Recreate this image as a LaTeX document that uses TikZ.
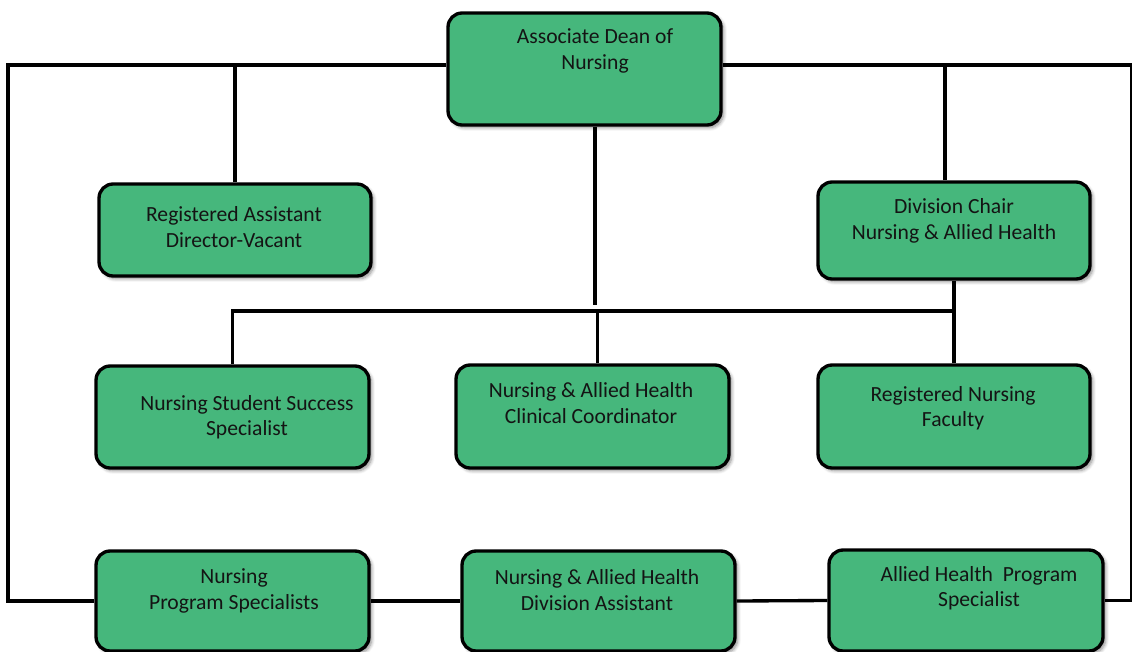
\documentclass[tikz,border=0pt]{standalone}
\usepackage{fontspec}
\setmainfont{Carlito}
\usepackage{xcolor}
\usetikzlibrary{shadows.blur}
\definecolor{boxgreen}{RGB}{70,183,124}
\definecolor{txtgray}{RGB}{20,20,20}

\begin{document}
\begin{tikzpicture}[x=0.02cm,y=-0.02cm,line width=1.9pt,
  box/.style={rectangle,rounded corners=8pt,draw=black,fill=boxgreen,line width=1.9pt,minimum width=5.46cm,inner sep=0pt,
    blur shadow={shadow blur steps=6,shadow xshift=1.5pt,shadow yshift=-1.5pt,shadow opacity=45}},
  txt/.style={align=center,inner sep=0pt,text=txtgray,font=\fontsize{12.3}{14.5}\selectfont}]
\useasboundingbox (0,0) rectangle (1132,652);
\clip (0,0) rectangle (1132,652);
\coordinate (tl) at (8,0);
\coordinate (tr) at (1132,0);
\coordinate (bus) at (0,311);
\coordinate (gap) at (0,305);
% boxes
\node[box,minimum height=2.24cm] (dean) at (584.5,69) {};
\node[box,minimum width=5.44cm,minimum height=1.84cm] (regasst) at (235,230) {};
\node[box,minimum width=5.44cm,minimum height=1.94cm] (chair) at (954,230.5) {};
\node[box,minimum height=2.04cm] (nsss) at (232.5,417) {};
\node[box,minimum height=2.06cm] (clin) at (592.5,416.5) {};
\node[box,minimum width=5.44cm,minimum height=2.06cm] (rnf) at (954,416.5) {};
\node[box,minimum height=2cm] (nps) at (232.5,601) {};
\node[box,minimum height=2cm] (nahda) at (598.5,601) {};
\node[box,minimum width=5.48cm,minimum height=2.02cm] (ahps) at (966,600.5) {};
% labels
\node[txt] (deanT) at (595,51) {Associate Dean of\\Nursing};
\node[txt] (regasstT) at (234,227) {Registered Assistant\\Director-Vacant};
\node[txt] (chairT) at (954,221) {Division Chair\\Nursing \& Allied Health};
\node[txt] (nsssT) at (247,417) {Nursing Student Success\\Specialist};
\node[txt] (clinT) at (591,403) {Nursing \& Allied Health\\Clinical Coordinator};
\node[txt] (rnfT) at (953,408) {Registered Nursing\\Faculty};
\node[txt] (npsT) at (234,591) {Nursing\\Program Specialists};
\node[txt] (nahdaT) at (597,590) {Nursing \& Allied Health\\Division Assistant};
\node[txt] (ahpsT) at (979,588) {Allied Health\ \ Program\\Specialist};
% lines
\draw ([yshift=0.08cm]dean.west) -- ([yshift=0.08cm]dean.west -| tl) |- (nps.west);
\draw ([yshift=0.08cm]dean.east) -- ([yshift=0.08cm]dean.east -| tr) |- (ahps.east);
\draw (regasst.north) -- ([yshift=0.08cm]regasst.north |- dean.west);
\draw ([xshift=-0.18cm]chair.north) -- ([xshift=-0.18cm,yshift=0.08cm]chair.north |- dean.east);
\draw ([xshift=0.21cm]dean.south) -- ([xshift=0.21cm]dean.south |- gap);
\draw (nsss.north) -- (nsss.north |- bus) -| (chair.south);
\draw (rnf.north) -- (rnf.north |- bus);
\draw ([xshift=0.1cm]clin.north) -- ([xshift=0.1cm]clin.north |- bus);
\draw (nps.east) -- (nahda.west);
\draw (nahda.east) -- (ahps.west);
\end{tikzpicture}
\end{document}
